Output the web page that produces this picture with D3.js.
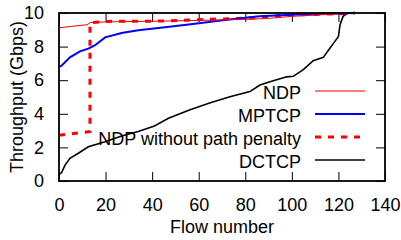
<!DOCTYPE html>
<html>
<head>
<meta charset="utf-8">
<script src="https://cdn.jsdelivr.net/npm/d3@7"></script>
<style>
  body { margin: 0; background: #fff; }
  svg text { font-family: "Liberation Sans", Arial, sans-serif; font-size: 18px; fill: #000; }
</style>
</head>
<body>
<svg id="chart" width="401" height="240"></svg>
<script>
// values (flow number, throughput in Gbps)
var ndpFlow     = [0, 5, 12, 13.5, 20, 45, 60, 80, 90, 100, 110, 120, 127];
var ndpTput     = [9.12, 9.2, 9.3, 9.43, 9.47, 9.52, 9.56, 9.62, 9.68, 9.8, 9.88, 9.95, 10];

var mptcpFlow   = [0, 1, 4.7, 9, 12.6, 15.5, 19.8, 26.9, 34, 45.5, 57.5, 72, 86, 100, 120, 127];
var mptcpTput   = [6.8, 6.85, 7.36, 7.72, 7.88, 8.08, 8.55, 8.81, 8.97, 9.15, 9.35, 9.6, 9.8, 9.9, 9.97, 10];

var noPenFlow   = [0, 12.5, 13.3, 13.3, 20, 45, 60, 85, 95, 105, 120, 127];
var noPenTput   = [2.72, 2.93, 2.95, 9.42, 9.5, 9.52, 9.6, 9.72, 9.85, 9.9, 9.95, 10];

var dctcpFlow   = [0, 1.1, 2.6, 4.7, 8.3, 12.6, 19.8, 26.9, 34, 41, 47, 56, 65, 73.4, 82, 86.3, 90.6, 97.8,
                   100.6, 104.9, 109.2, 113.5, 116.4, 118.5, 120, 120.7, 122, 124, 127];
var dctcpTput   = [0.4, 0.5, 0.95, 1.35, 1.65, 2.04, 2.34, 2.68, 2.94, 3.27, 3.73, 4.23, 4.66, 5.02, 5.32, 5.71, 5.91, 6.2,
                   6.23, 6.63, 7.16, 7.36, 7.92, 8.31, 8.61, 9.3, 9.8, 10, 10];

var seriesNames = ["NDP", "MPTCP", "NDP without path penalty", "DCTCP"];
var xTicks = [0, 20, 40, 60, 80, 100, 120, 140];
var yTicks = [0, 2, 4, 6, 8, 10];

var svg = d3.select("#chart");
var margin = {left: 59, right: 16, top: 13, bottom: 59};
var width = 401 - margin.left - margin.right;
var height = 240 - margin.top - margin.bottom;

var x = d3.scaleLinear().domain([0, 140]).range([margin.left, margin.left + width]);
var y = d3.scaleLinear().domain([0, 10]).range([margin.top + height, margin.top]);

// tick marks point inwards, on all four sides
var tickLen = 9;
var axisB = svg.append("g").attr("transform", "translate(0," + (margin.top + height) + ")")
  .call(d3.axisBottom(x).tickValues(xTicks).tickSize(-tickLen).tickPadding(tickLen + 8));
var axisT = svg.append("g").attr("transform", "translate(0," + margin.top + ")")
  .call(d3.axisTop(x).tickValues(xTicks).tickSize(-tickLen).tickFormat(""));
var axisL = svg.append("g").attr("transform", "translate(" + margin.left + ",0)")
  .call(d3.axisLeft(y).tickValues(yTicks).tickSize(-tickLen).tickPadding(tickLen + 6));
var axisR = svg.append("g").attr("transform", "translate(" + (margin.left + width) + ",0)")
  .call(d3.axisRight(y).tickValues(yTicks).tickSize(-tickLen).tickFormat(""));

[axisB, axisT, axisL, axisR].forEach(function (g) {
  g.select(".domain").remove();
  g.selectAll(".tick line").attr("stroke", "#000").attr("stroke-width", 1);
  g.selectAll("text").style("font-size", "18px").attr("fill", "#000");
});
axisB.selectAll("text").attr("dy", "0.71em");

function makeLine(xs, ys) {
  return d3.line()
    .x(function (d, i) { return x(xs[i]); })
    .y(function (d, i) { return y(ys[i]); })(xs);
}

var styles = [
  {color: "#ff0000", width: 1, dash: null},
  {color: "#0000ff", width: 2, dash: null},
  {color: "#ff0000", width: 3, dash: "6,7"},
  {color: "#000000", width: 1.6, dash: null}
];
var flows = [ndpFlow, mptcpFlow, noPenFlow, dctcpFlow];
var tputs = [ndpTput, mptcpTput, noPenTput, dctcpTput];

// draw back to front: DCTCP first, NDP on top as in the original
var drawOrder = [3, 2, 1, 0];
drawOrder.forEach(function (i) {
  svg.append("path")
    .attr("d", makeLine(flows[i], tputs[i]))
    .attr("fill", "none")
    .attr("stroke", styles[i].color)
    .attr("stroke-width", styles[i].width)
    .attr("stroke-dasharray", styles[i].dash);
});

// frame
svg.append("rect")
  .attr("x", margin.left)
  .attr("y", margin.top)
  .attr("width", width)
  .attr("height", height)
  .attr("fill", "none")
  .attr("stroke", "#000")
  .attr("stroke-width", 1.8);

// legend
var legendTextX = 301;
var legendLineX1 = 315;
var legendLineX2 = 365;
var legendY0 = 91;
var legendStep = 23;
seriesNames.forEach(function (name, i) {
  var ly = legendY0 + i * legendStep;
  svg.append("text")
    .attr("x", legendTextX)
    .attr("y", ly + 8)
    .attr("text-anchor", "end")
    .text(name);
  svg.append("line")
    .attr("x1", legendLineX1)
    .attr("x2", legendLineX2)
    .attr("y1", ly)
    .attr("y2", ly)
    .attr("stroke", styles[i].color)
    .attr("stroke-width", styles[i].width)
    .attr("stroke-dasharray", styles[i].dash);
});

// axis titles
svg.append("text")
  .attr("x", margin.left + width / 2)
  .attr("y", 233)
  .attr("text-anchor", "middle")
  .text("Flow number");
svg.append("text")
  .attr("transform", "translate(23," + (margin.top + height / 2) + ") rotate(-90)")
  .attr("text-anchor", "middle")
  .text("Throughput (Gbps)");
</script>
</body>
</html>
